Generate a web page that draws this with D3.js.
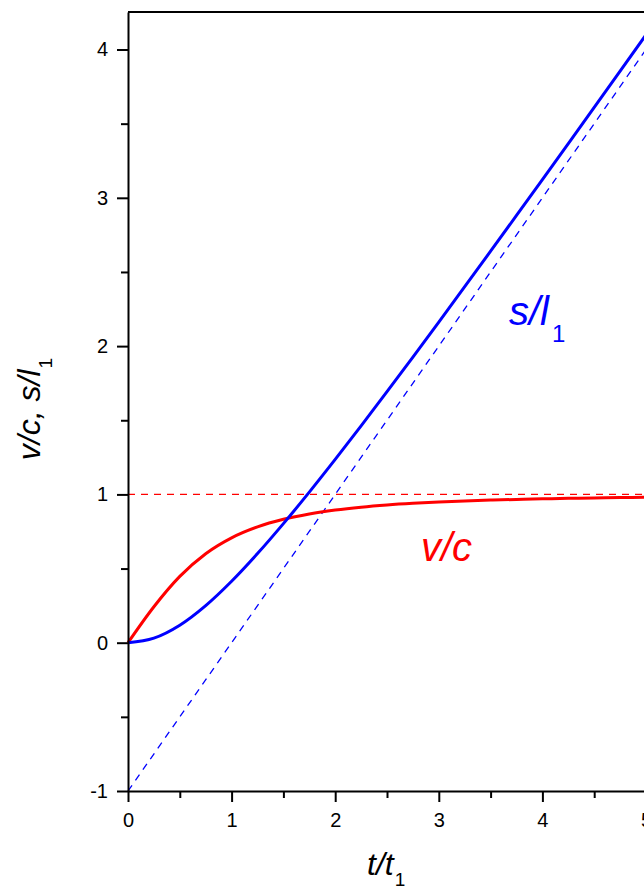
<!DOCTYPE html>
<html>
<head>
<meta charset="utf-8">
<script src="https://cdn.jsdelivr.net/npm/d3@7"></script>
<style>
  html, body { margin: 0; padding: 0; background: #fff; }
  svg { display: block; }
  text { font-family: "Liberation Sans", Arial, sans-serif; }
</style>
</head>
<body>
<svg id="chart" width="644" height="889"></svg>
<script>
// Time axis samples t/t1
const tValues = [0, 0.25, 0.5, 0.75, 1, 1.25, 1.5, 1.75, 2, 2.25, 2.5, 2.75,
                 3, 3.25, 3.5, 3.75, 4, 4.25, 4.5, 4.75, 5];
// Velocity v/c
const velocity = [0, 0.2425, 0.4472, 0.6, 0.7071, 0.7809, 0.8321, 0.8682, 0.8944,
                  0.9138, 0.9285, 0.9398, 0.9487, 0.9558, 0.9615, 0.9662, 0.9701,
                  0.9734, 0.9762, 0.9786, 0.9806];
// Distance s/l1
const distance = [0, 0.0308, 0.118, 0.25, 0.4142, 0.6008, 0.8028, 1.0156, 1.2361,
                  1.4622, 1.6926, 1.9262, 2.1623, 2.4004, 2.6401, 2.881, 3.1231,
                  3.3661, 3.6098, 3.8541, 4.099];
// Reference lines: light-speed limit and the asymptote of s/l1
const limitLine = [{t: 0, y: 1}, {t: 5, y: 1}];
const asymptote = [{t: 0, y: -1}, {t: 5, y: 4}];
// Ticks
const xMajor = [0, 1, 2, 3, 4, 5];
const xMinor = [0.5, 1.5, 2.5, 3.5, 4.5];
const yMajor = [-1, 0, 1, 2, 3, 4];
const yMinor = [-0.5, 0.5, 1.5, 2.5, 3.5];

const svg = d3.select("#chart");
const plotLeft = 128, plotRight = 646, plotTop = 12, plotBottom = 791;

const x = d3.scaleLinear().domain([0, 5]).range([plotLeft, plotRight]);
const y = d3.scaleLinear().domain([-1, 4.253]).range([plotBottom, plotTop]);

const RED = "#ff0000", BLUE = "#0000ff";

// Dashed reference lines
const refLine = d3.line().x(d => x(d.t)).y(d => y(d.y));
svg.append("path").datum(limitLine).attr("d", refLine)
  .attr("fill", "none").attr("stroke", RED).attr("stroke-width", 1.3)
  .attr("stroke-dasharray", "7,6");
svg.append("path").datum(asymptote).attr("d", refLine)
  .attr("fill", "none").attr("stroke", BLUE).attr("stroke-width", 1.3)
  .attr("stroke-dasharray", "7,6");

// Curves
const curve = vals => d3.line()
  .x((d, i) => x(tValues[i]))
  .y(d => y(d))
  .curve(d3.curveMonotoneX)(vals);

svg.append("path").attr("d", curve(velocity))
  .attr("fill", "none").attr("stroke", RED).attr("stroke-width", 3);
svg.append("path").attr("d", curve(distance))
  .attr("fill", "none").attr("stroke", BLUE).attr("stroke-width", 3);

// Frame top line
svg.append("line").attr("x1", plotLeft).attr("x2", plotRight)
  .attr("y1", plotTop).attr("y2", plotTop)
  .attr("stroke", "#000").attr("stroke-width", 2);

// Axes
function styleAxis(g) {
  g.selectAll("path.domain").attr("stroke", "#000").attr("stroke-width", 2);
  g.selectAll(".tick line").attr("stroke", "#000").attr("stroke-width", 2);
  g.selectAll(".tick text").attr("fill", "#000")
    .style("font-family", "'Liberation Sans', Arial, sans-serif")
    .style("font-size", "20px");
}

const gxMinor = svg.append("g").attr("transform", `translate(0,${plotBottom})`)
  .call(d3.axisBottom(x).tickValues(xMinor).tickSize(7).tickFormat("").tickSizeOuter(0));
gxMinor.select("path.domain").remove();
styleAxis(gxMinor);

const gx = svg.append("g").attr("transform", `translate(0,${plotBottom})`)
  .call(d3.axisBottom(x).tickValues(xMajor).tickSize(11).tickPadding(11)
    .tickSizeOuter(0).tickFormat(d => String(d)));
styleAxis(gx);

const gyMinor = svg.append("g").attr("transform", `translate(${plotLeft},0)`)
  .call(d3.axisLeft(y).tickValues(yMinor).tickSize(7).tickFormat("").tickSizeOuter(0));
gyMinor.select("path.domain").remove();
styleAxis(gyMinor);

const gy = svg.append("g").attr("transform", `translate(${plotLeft},0)`)
  .call(d3.axisLeft(y).tickValues(yMajor).tickSize(11).tickPadding(9)
    .tickSizeOuter(0).tickFormat(d => String(d)));
styleAxis(gy);

// Axis titles
const xt = svg.append("text").attr("x", 367).attr("y", 875)
  .style("font-size", "32px").attr("fill", "#000");
xt.append("tspan").text("t/t").style("font-style", "italic");
xt.append("tspan").text("1").attr("dy", 11).attr("dx", 1).style("font-size", "19px");

const yt = svg.append("text")
  .attr("transform", "translate(40,409) rotate(-90)")
  .attr("text-anchor", "middle")
  .style("font-size", "32px").attr("fill", "#000");
yt.append("tspan").text("v/c, s/l").style("font-style", "italic");
yt.append("tspan").text("1").attr("dy", 12).attr("dx", 1).style("font-size", "19px");

// Curve labels
const sl = svg.append("text").attr("x", 509).attr("y", 325)
  .style("font-size", "40px").attr("fill", BLUE);
sl.append("tspan").text("s/l").style("font-style", "italic");
sl.append("tspan").text("1").attr("dy", 17).attr("dx", 3).style("font-size", "24px");

svg.append("text").attr("x", 421).attr("y", 561)
  .style("font-size", "40px").style("font-style", "italic").attr("fill", RED)
  .text("v/c");
</script>
</body>
</html>
